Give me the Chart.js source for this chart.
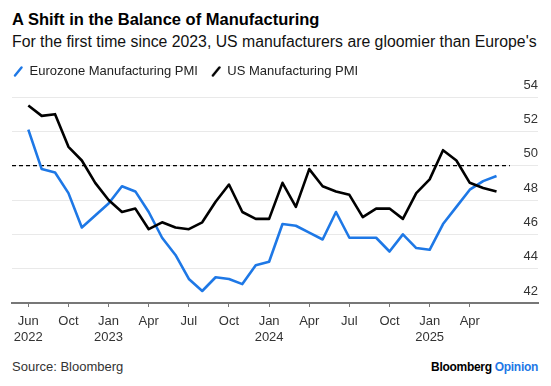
<!DOCTYPE html>
<html>
<head>
<meta charset="utf-8">
<script src="https://cdn.jsdelivr.net/npm/chart.js@4.4.1/dist/chart.umd.min.js"></script>
<style>
  html, body { margin:0; padding:0; background:#fff; }
  body { width:551px; height:386px; position:relative; overflow:hidden;
         font-family:"Liberation Sans", Arial, sans-serif; color:#000; }
  .txt { position:absolute; white-space:nowrap; }
  #title { left:12px; top:9px; font-size:16.5px; line-height:20px; font-weight:bold; }
  #subtitle { left:12px; top:32px; font-size:15.8px; line-height:20px; color:#111; }
  #source { left:12px; top:359px; font-size:13px; line-height:16px; color:#333; }
  #brand { right:13px; top:359px; font-size:12px; line-height:16px; font-weight:bold; letter-spacing:-0.3px; }
  #brand span { color:#1e78e6; }
  #wrap { position:absolute; left:0; top:52px; width:551px; height:298px; }
</style>
</head>
<body>
<div id="title" class="txt">A Shift in the Balance of Manufacturing</div>
<div id="subtitle" class="txt">For the first time since 2023, US manufacturers are gloomier than Europe's</div>
<div id="wrap"><canvas id="chart"></canvas></div>
<div id="source" class="txt">Source: Bloomberg</div>
<div id="brand" class="txt">Bloomberg <span>Opinion</span></div>

<script>
// monthly readings, Jun 2022 .. May 2025
const months = ['Jun 2022','Jul 2022','Aug 2022','Sep 2022','Oct 2022','Nov 2022','Dec 2022',
  'Jan 2023','Feb 2023','Mar 2023','Apr 2023','May 2023','Jun 2023','Jul 2023','Aug 2023','Sep 2023',
  'Oct 2023','Nov 2023','Dec 2023','Jan 2024','Feb 2024','Mar 2024','Apr 2024','May 2024','Jun 2024',
  'Jul 2024','Aug 2024','Sep 2024','Oct 2024','Nov 2024','Dec 2024','Jan 2025','Feb 2025','Mar 2025',
  'Apr 2025','May 2025'];

const euroPmi = [52.1, 49.8, 49.6, 48.4, 46.4, 47.1, 47.8, 48.8, 48.5, 47.3,
                 45.8, 44.8, 43.4, 42.7, 43.5, 43.4, 43.1, 44.2, 44.4, 46.6,
                 46.5, 46.1, 45.7, 47.3, 45.8, 45.8, 45.8, 45.0, 46.0, 45.2,
                 45.1, 46.6, 47.6, 48.6, 49.1, 49.4];

const usPmi = [53.5, 52.9, 53.0, 51.1, 50.3, 49.0, 48.0, 47.3, 47.5, 46.3,
               46.7, 46.4, 46.3, 46.7, 47.9, 48.9, 47.3, 46.9, 46.9, 49.0,
               47.6, 49.8, 48.8, 48.5, 48.3, 47.0, 47.5, 47.5, 46.9, 48.4,
               49.2, 50.9, 50.3, 49.0, 48.7, 48.5];

// expansion / contraction line
const thresholdLevel = 50;
const thresholdSpan = [-1.22, 36];

// x ticks (month index) and their labels
const tickPos = [0, 3, 6, 9, 12, 15, 18, 21, 24, 27, 30, 33];
const tickMonths = ['Jun','Oct','Jan','Apr','Jul','Oct','Jan','Apr','Jul','Oct','Jan','Apr'];
const tickYears = ['2022','','2023','','','','2024','','','','2025',''];

const yTicks = [42, 44, 46, 48, 50, 52, 54];

const BLUE = '#1e78e6';

function slashIcon(color){
  const c = document.createElement('canvas');
  c.width = 10; c.height = 11;
  const g = c.getContext('2d');
  g.strokeStyle = color; g.lineWidth = 2.4; g.lineCap = 'round';
  g.beginPath(); g.moveTo(2, 9.5); g.lineTo(8.5, 1.5); g.stroke();
  return c;
}

const toPoints = arr => arr.map((v, i) => ({x: i, y: v}));

// push the plot down a little below the legend
const legendGap = {
  id: 'legendGap',
  beforeLayout(chart){
    const lg = chart.legend;
    if (lg && !lg._gapDone){
      const fit = lg.fit;
      lg.fit = function(){ fit.call(this); this.height += 9; };
      lg._gapDone = true;
    }
  }
};

new Chart(document.getElementById('chart'), {
  type: 'line',
  data: {
    datasets: [
      { label: 'Eurozone Manufacturing PMI', data: toPoints(euroPmi), borderColor: BLUE,
        backgroundColor: BLUE, borderWidth: 2.6, pointRadius: 0, tension: 0,
        borderJoinStyle: 'round', pointStyle: slashIcon(BLUE), order: 2 },
      { label: 'US Manufacturing PMI', data: toPoints(usPmi), borderColor: '#000',
        backgroundColor: '#000', borderWidth: 2.6, pointRadius: 0, tension: 0,
        borderJoinStyle: 'round', pointStyle: slashIcon('#000'), order: 1 },
      { label: 'threshold', data: thresholdSpan.map(x => ({x, y: thresholdLevel})),
        borderColor: '#000', borderWidth: 1.3, borderDash: [4, 3], pointRadius: 0, order: 3 }
    ]
  },
  options: {
    responsive: true,
    maintainAspectRatio: false,
    animation: false,
    layout: { padding: { left: 0, right: 13, top: 0, bottom: 0 } },
    plugins: {
      legend: {
        position: 'top', align: 'start',
        labels: {
          usePointStyle: true, pointStyleWidth: 10, padding: 13,
          color: '#222', font: { family: '"Liberation Sans", Arial, sans-serif', size: 13 },
          filter: item => item.datasetIndex < 2,
          sort: (a, b) => a.datasetIndex - b.datasetIndex
        }
      },
      tooltip: { enabled: false }
    },
    scales: {
      x: {
        type: 'linear', position: 'bottom', min: -1.22, max: 38.1,
        afterBuildTicks(s){ s.ticks = tickPos.map(v => ({value: v})); },
        afterFit(s){ s.height = 47; },
        grid: { drawOnChartArea: false, drawTicks: true, tickLength: 4, color: '#777', lineWidth: 1 },
        border: { display: true, color: '#777', width: 2 },
        ticks: {
          autoSkip: false, maxRotation: 0, padding: 6, color: '#333',
          font: { family: '"Liberation Sans", Arial, sans-serif', size: 13, lineHeight: 1.25 },
          callback(v){
            const i = tickPos.indexOf(v);
            if (i < 0) return '';
            return tickYears[i] ? [tickMonths[i], tickYears[i]] : tickMonths[i];
          }
        }
      },
      y: {
        position: 'right', min: 42, max: 54,
        afterBuildTicks(s){ s.ticks = yTicks.map(v => ({value: v})); },
        afterFit(s){ s.width = 0; },
        grid: { color: '#e9e9e9', lineWidth: 1, drawTicks: false },
        border: { display: false },
        ticks: {
          mirror: true, padding: 0, labelOffset: -12, color: '#333',
          font: { family: '"Liberation Sans", Arial, sans-serif', size: 13 }
        }
      },
      gutter: {
        position: 'left', display: true,
        afterFit(s){ s.width = 12; },
        grid: { display: false }, border: { display: false }, ticks: { display: false }
      }
    }
  },
  plugins: [legendGap]
});
</script>
</body>
</html>
